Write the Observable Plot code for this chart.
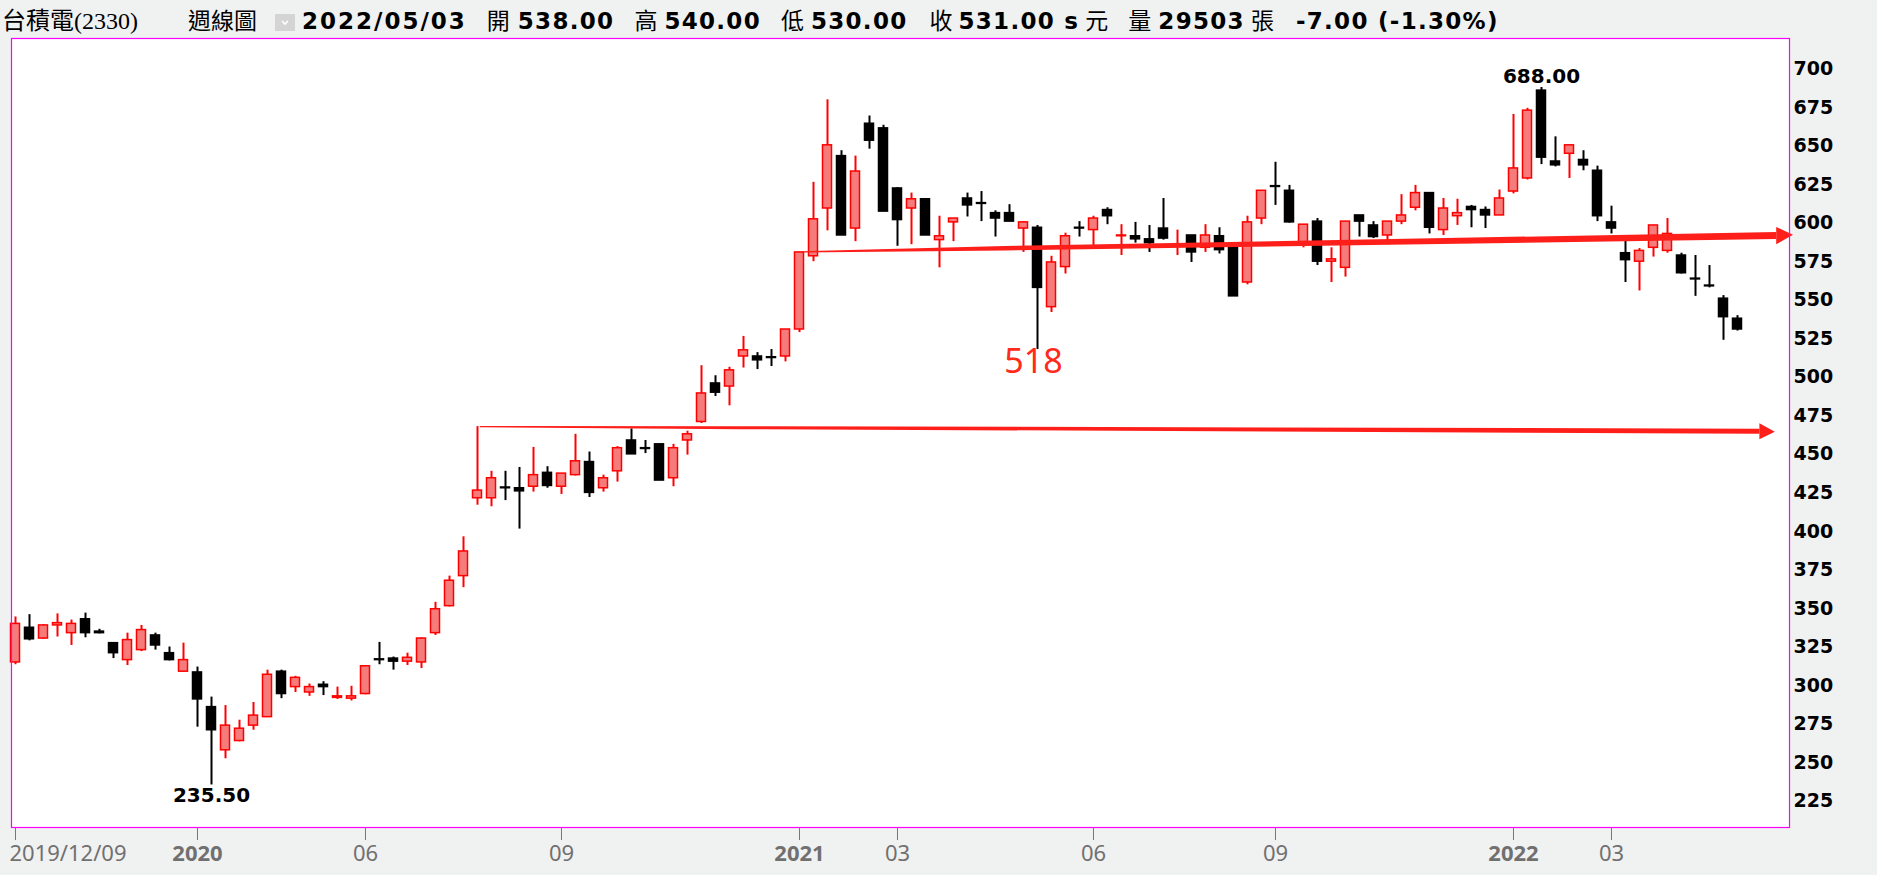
<!DOCTYPE html>
<html>
<head>
<meta charset="utf-8">
<script src="https://cdn.jsdelivr.net/npm/d3@7"></script>
<script src="https://cdn.jsdelivr.net/npm/@observablehq/plot@0.6"></script>
<style>
  body { margin: 0; background: #f0f1f1; width: 1877px; height: 875px; overflow: hidden; }
  #head { height: 35px; padding-top: 2px; line-height: 35px; white-space: nowrap; font-size: 23px; }
  #head .nm { font-family: "Liberation Serif", "Noto Sans CJK TC", serif; font-size: 24px; margin-left: 2px; }
  #head .cj { font-family: "Noto Sans CJK TC", sans-serif; font-size: 23px; font-weight: 400; }
  #head b { font-family: "DejaVu Sans", sans-serif; font-weight: bold; letter-spacing: 1.3px; }
  #head svg { vertical-align: -2px; }
</style>
</head>
<body>
<div id="head"><span class="nm">台積電(2330)</span><span class="cj" style="margin-left:50px">週線圖</span><svg width="20" height="17" style="margin-left:18px"><rect width="20" height="17" fill="#d4d4d4"/><path d="M7 7 L10 10 L13 7" stroke="#fff" stroke-width="1.6" fill="none"/></svg><b style="margin-left:7px;letter-spacing:2px">2022/05/03</b><span class="cj" style="margin-left:20px">開</span><b style="margin-left:8px">538.00</b><span class="cj" style="margin-left:20px">高</span><b style="margin-left:7px">540.00</b><span class="cj" style="margin-left:20px">低</span><b style="margin-left:7px">530.00</b><span class="cj" style="margin-left:22px">收</span><b style="margin-left:6px">531.00 s</b><span class="cj" style="margin-left:6px">元</span><span class="cj" style="margin-left:20px">量</span><b style="margin-left:7px">29503</b><span class="cj" style="margin-left:6px">張</span><b style="margin-left:22px">-7.00 (-1.30%)</b></div>
<div id="chart"></div>
<script>
// weekly OHLC, 2019/12/09 .. 2022/05/03
const opens = [315,337.5,330.5,339,334,343,335,327.5,316.5,323,
  332.5,321,309,308.5,286,258,264,274,279.5,309,
  299,295.5,300.5,292,291.5,294.5,317,317.5,315.5,315,
  334,351.5,371,421.5,421.5,428.5,428,429,438,429,
  436.5,445,428,439,459,454,456.5,434.5,459,471,
  496,494,513.5,513.5,513,513.5,531,578.5,609.5,643.5,
  596.5,664.5,661.5,622.5,609.5,615.5,589,600.5,616,613,
  606.5,606.5,596.5,597,545.5,571.5,597,595.5,608.5,591.5,
  591.5,589.5,596.5,585,592,584,591.5,584,561.5,603,
  624,621,586,601,575,571,605,598.5,592,601,
  610,619.5,595.5,604.5,610.5,608.5,605,620.5,629,686,
  640,645,641,634,600.5,580.5,575,584,582,579,
  564,559.5,551,538]
const highs = [344.5,346,339.5,346.5,342.5,347,336.5,327.5,334,339,
  334,325,327.5,312,292.5,287,277.5,289,310,310,
  306,301,302.5,299,299.5,313,328,318.5,321,331,
  354,371,396.5,468,439,439,441.5,454.5,442,437.5,
  463,451.5,436.5,455,466.5,459,456.5,456.5,465,507.5,
  501,506.5,526.5,516,518,531,581,626.5,680,647,
  643.5,669.5,663.5,623,619.5,615.5,604.5,603,619.5,620.5,
  608,612,601,598.5,578.5,593.5,601,604.5,610,599,
  600.5,598.5,616,595.5,592,599,597,584,604.5,621,
  639.5,624.5,599,603,584,601,605,601,601,618.5,
  624.5,619.5,616,615.5,611.5,610.5,621.5,670.5,674.5,688,
  656,650.5,647,637,611,588.5,583.5,598.5,603,580.5,
  579,572.5,553,540]
const lows = [313.5,329,330,331.5,326,331,333.5,317.5,313,322,
  323,316,309,273,235.5,252.5,263.5,271,279.5,291.5,
  295.5,293,293.5,291,290,294,313.5,310,313,311,
  332.5,351,363.5,417,416,420,401.5,425.5,428,424,
  436,422,425.5,432,450,450.5,433,429,449.5,470,
  487.5,481.5,506,505,507,510,529,575,595,592,
  588,648,607.5,585,586,592,571,588,604,601,
  591,601,581,518,542,567,591,585,599,579,
  587,581,589,579,574.5,581,580,552.5,560,599,
  611.5,600,584,572.5,561.5,565,591,590,586,599,
  608,593,592,598.5,597,596.5,605,619,628,638,
  636.5,629,634,601,593,561.5,556,578,580.5,567,
  552.5,558,524,530]
const closes = [340,330,339,340.5,340,334,334,321,329.5,336,
  326,316.5,316.5,291,271,274,272,280.5,307,294.5,
  305,299,299,293,293,312.5,316.5,315.5,318,330.5,
  349.5,368,387,426.5,434.5,428,426,436.5,429.5,437.5,
  445.5,425,434.5,454,450,453.5,433,454,463,489.5,
  490,504.5,517.5,511,512.5,531,581,602.5,650.5,592,
  633.5,653.5,607.5,602,615.5,592,591.5,603,611.5,612.5,
  603,601,600.5,558,574.5,591.5,596.5,603,604.5,592,
  589.5,587,590,585.5,581,592,582.5,552.5,600.5,621,
  623.5,600.5,599,575,576.5,601,601,591,601,605,
  619.5,597,609.5,606.5,608.5,605,616,635.5,673,642.5,
  637.5,650.5,637.5,604.5,596.5,576,582,598.5,593,567.5,
  563.5,559,539,531]

// x axis (candle index) and y axis ticks
const tickIdx = [0, 13, 25, 39, 56, 63, 77, 90, 107, 114]
const tickText = ["2019/12/09", "2020", "06", "09", "2021", "03", "06", "09", "2022", "03"]
const yTicks = d3.range(225, 701, 25)

// annotations: extreme prices and the two hand drawn arrows [index, price]
const extremes = [{i: 14, price: 235.5, text: "235.50", pos: "low"}, {i: 109, price: 688, text: "688.00", pos: "high"}]
const noteLow = [{i: 73, price: 518, text: "518"}]
const upperArrow = [[56.15, 581.0], [70.7, 583.4], [125.8, 591.6], [127.0, 592.1]]
const lowerArrow = [[33.2, 467.7], [51.8, 467.0], [124.6, 464.7], [125.7, 464.4]]

const RED = "#ff0000"
const UPFILL = "#f67b7b"
const ARROW = "#ff1f1a"

const candles = opens.map((o, i) => ({i, open: o, high: highs[i], low: lows[i], close: closes[i], up: closes[i] >= o}))

const W = 1877, H = 838
const mTop = 1, mBottom = 48, mLeft = 11, mRight = 88
const yDom = [207.9, 719.8]
const kv = (yDom[1] - yDom[0]) / (H - mTop - mBottom)   // price units per pixel

// tapered shaft + triangle head from the arrow points
function arrowMarks(pts, widths, headHalf) {
  const shaft = pts.slice(0, 3).map((p, j) => ({x: p[0], y1: p[1] - widths[j] * kv / 2, y2: p[1] + widths[j] * kv / 2}))
  const base = pts[2], tip = pts[3]
  const head = [{x: base[0], y1: base[1] - headHalf * kv, y2: base[1] + headHalf * kv}, {x: tip[0], y1: tip[1], y2: tip[1]}]
  return [
    Plot.areaY(shaft, {x: "x", y1: "y1", y2: "y2", fill: ARROW}),
    Plot.areaY(head, {x: "x", y1: "y1", y2: "y2", fill: ARROW})
  ]
}

const years = tickIdx.map((d, j) => ({i: d, t: tickText[j]}))
const isYear = d => /^20\d\d$/.test(d.t)

let chart = Plot.plot({
  width: W,
  height: H,
  marginTop: mTop,
  marginBottom: mBottom,
  marginLeft: mLeft,
  marginRight: mRight,
  x: {type: "linear", domain: [-0.2857, 126.7143], label: null},
  y: {domain: yDom, label: null},
  color: {type: "identity"},
  style: {background: "none", fontFamily: "DejaVu Sans", overflow: "visible"},
  marks: [
    Plot.frame({fill: "white", stroke: "none"}),
    Plot.ruleX(candles, {x: "i", y1: "low", y2: "high", stroke: d => d.up ? RED : "black", strokeWidth: 2}),
    Plot.rect(candles, {
      x1: d => d.i - 0.5, x2: d => d.i + 0.5, y1: "open", y2: "close",
      insetLeft: 2.5, insetRight: 2.5,
      fill: d => d.up ? UPFILL : "black",
      stroke: d => d.up ? RED : "black",
      strokeWidth: 1.5
    }),
    ...arrowMarks(lowerArrow, [1.2, 3, 5], 8),
    ...arrowMarks(upperArrow, [1.2, 4.5, 7], 8.7),
    Plot.text(extremes.filter(d => d.pos === "low"), {x: "i", y: "price", text: "text", lineAnchor: "top", dy: 3, fontSize: 20, fontWeight: "bold", fill: "black"}),
    Plot.text(extremes.filter(d => d.pos === "high"), {x: "i", y: "price", text: "text", lineAnchor: "bottom", dy: -5, fontSize: 20, fontWeight: "bold", fill: "black"}),
    Plot.text(noteLow, {x: "i", y: "price", text: "text", lineAnchor: "top", dx: -4, dy: -1, fontSize: 34, fontFamily: "Noto Sans", fill: "#ff2a1a"}),
    Plot.frame({stroke: "#f0f", strokeWidth: 1.2}),
    Plot.axisY(yTicks, {anchor: "right", tickSize: 0, tickPadding: 4, fontSize: 19, fontWeight: "bold", fill: "black", label: null}),
    Plot.axisX(tickIdx, {anchor: "bottom", tickSize: 13, stroke: "#777", tickFormat: () => "", label: null}),
    Plot.text(years.filter(d => d.i === 0), {x: "i", text: "t", frameAnchor: "bottom", textAnchor: "start", dx: -6, dy: 33, fontFamily: "Noto Sans", fontSize: 22, fill: "#707070"}),
    Plot.text(years.filter(d => d.i !== 0 && !isYear(d)), {x: "i", text: "t", frameAnchor: "bottom", dy: 33, fontFamily: "Noto Sans", fontSize: 22, fill: "#707070"}),
    Plot.text(years.filter(isYear), {x: "i", text: "t", frameAnchor: "bottom", dy: 33, fontFamily: "Noto Sans", fontSize: 22, fontWeight: "bold", fill: "#707070"})
  ]
})

d3.select('#chart').append(() => chart)
</script>
</body>
</html>
